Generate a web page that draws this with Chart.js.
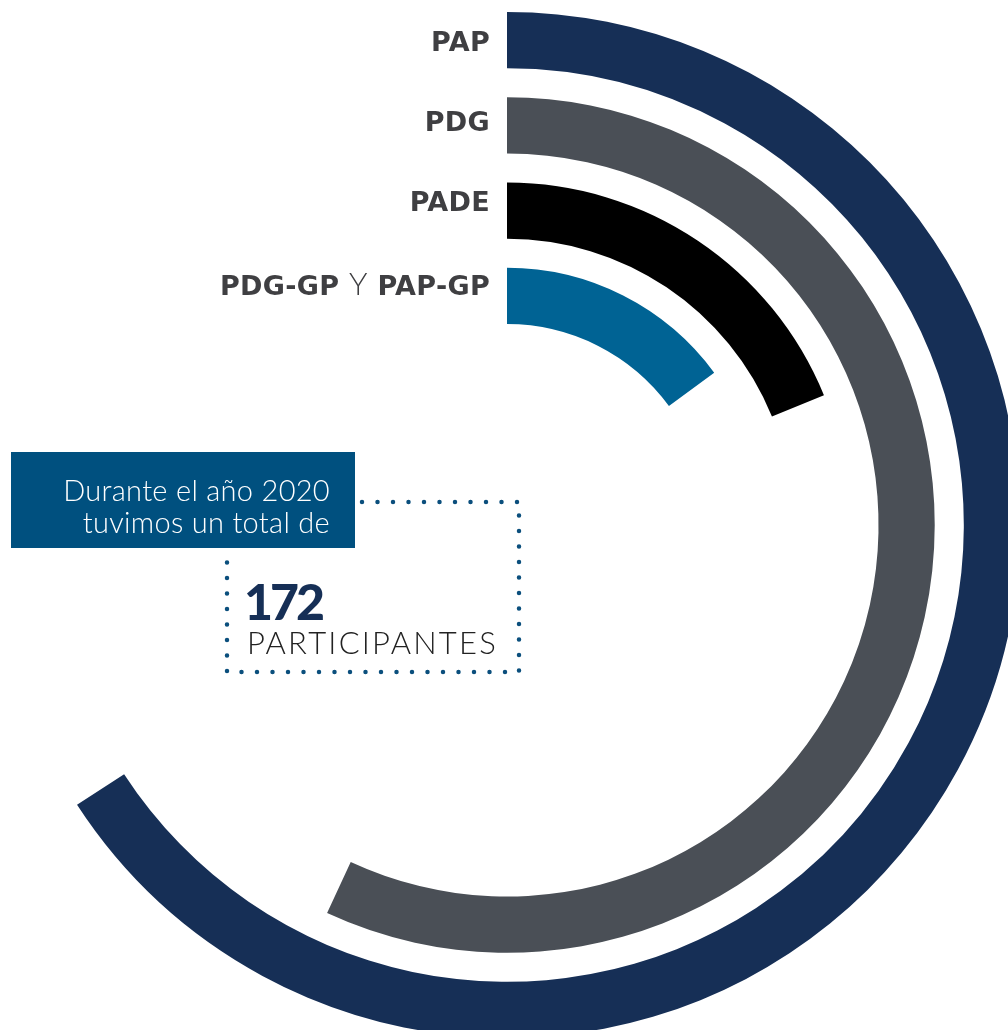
<!DOCTYPE html>
<html lang="es">
<head>
<meta charset="utf-8">
<title>Participantes 2020</title>
<script src="https://cdn.jsdelivr.net/npm/chart.js@4.4.1/dist/chart.umd.min.js"></script>
<style>
  html, body { margin: 0; padding: 0; background: #fff; overflow: hidden; }
  body { width: 1008px; height: 1030px; position: relative; }
  #chartWrap { position: absolute; left: -6px; top: 12px; width: 1026px; height: 1026px; }
  .lbl {
    position: absolute; right: 518px; white-space: nowrap;
    font-family: "DejaVu Sans", sans-serif; font-weight: 700; font-size: 27px;
    color: #3f3f42; line-height: 1; letter-spacing: 0.3px;
  }
  .lbl .thin { font-family: Lato, sans-serif; font-weight: 300; font-size: 31px; }
  #box {
    position: absolute; left: 11px; top: 452px; width: 344px; height: 96px;
    background: #00507f;
  }
  #box div {
    position: absolute; right: 25px; color: #fff; white-space: nowrap; line-height: 1;
    font-family: Lato, sans-serif; font-weight: 300; font-size: 29px; letter-spacing: 0.3px;
  }
  #dots { position: absolute; left: 0; top: 0; }
  #num {
    position: absolute; left: 244px; top: 576px; color: #162f56;
    font-family: Lato, sans-serif; font-weight: 900; font-size: 50px; letter-spacing: -3px; line-height: 1;
  }
  #part {
    position: absolute; left: 247px; top: 627px; color: #222;
    font-family: Lato, sans-serif; font-weight: 300; font-size: 31px; letter-spacing: 2.2px; line-height: 1;
  }
</style>
</head>
<body>
<div id="chartWrap"><canvas id="rings"></canvas></div>

<div class="lbl" style="top:28px">PAP</div>
<div class="lbl" style="top:108px">PDG</div>
<div class="lbl" style="top:188px">PADE</div>
<div class="lbl" style="top:268px">PDG-GP <span class="thin">Y</span> PAP-GP</div>

<svg id="dots" width="1008" height="1030">
  <path d="M 362 502 H 519 V 672 H 227 V 556" fill="none" stroke="#0b4f7d"
        stroke-width="4.5" stroke-linecap="round" stroke-dasharray="0 15.5"/>
</svg>
<div id="box">
  <div style="top:23px">Durante el año 2020</div>
  <div style="top:55px">tuvimos un total de</div>
</div>
<div id="num">172</div>
<div id="part">PARTICIPANTES</div>

<script>
// === Data ===
const programs = ["PAP", "PDG", "PADE", "PDG-GP y PAP-GP"];
const participants = [72.4, 62.6, 20.7, 16.4];   // ≈172 in total
const scaleMax = 110;                           // value of a full turn
const ringColors = ["#162f56", "#4a4f56", "#000000", "#006394"];

// === Build ring datasets, with transparent spacers between them ===
function buildDatasets() {
  const sets = [];
  programs.forEach((name, i) => {
    sets.push({
      label: name,
      data: [participants[i], scaleMax - participants[i]],
      backgroundColor: [ringColors[i], "rgba(0,0,0,0)"],
      borderWidth: 0,
      weight: 56,
    });
    if (i < programs.length - 1) {
      sets.push({
        label: "",
        data: [1],
        backgroundColor: ["rgba(0,0,0,0)"],
        borderWidth: 0,
        weight: 29,
      });
    }
  });
  return sets;
}

new Chart(document.getElementById("rings"), {
  type: "doughnut",
  data: { labels: ["valor", "resto"], datasets: buildDatasets() },
  options: {
    responsive: true,
    maintainAspectRatio: false,
    animation: false,
    cutout: 201,
    rotation: 0,
    layout: { padding: 0 },
    events: [],
    plugins: { legend: { display: false }, tooltip: { enabled: false } },
  },
});
</script>
</body>
</html>
